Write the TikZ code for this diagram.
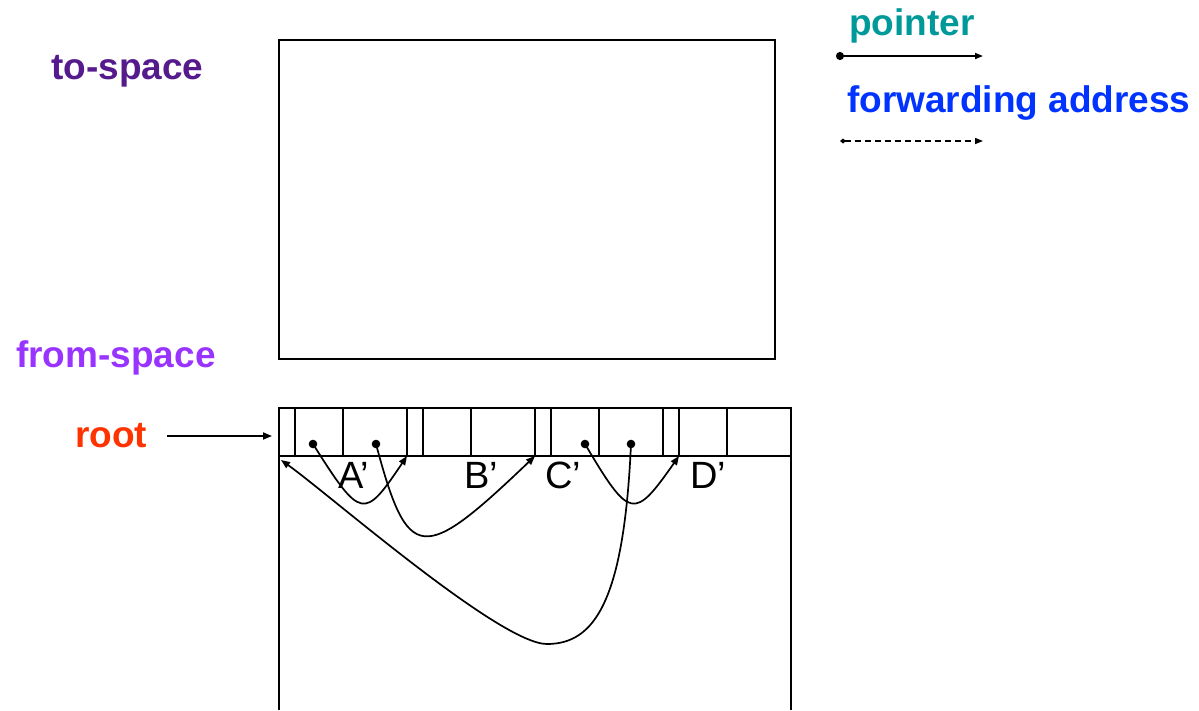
\documentclass[tikz,border=0pt]{standalone}
\usepackage{fontspec}
\setmainfont{Liberation Sans}
\usetikzlibrary{arrows.meta}
\definecolor{tocol}{RGB}{85,26,140}
\definecolor{fromcol}{RGB}{153,51,255}
\definecolor{rootcol}{RGB}{255,51,0}
\definecolor{ptrcol}{RGB}{0,153,153}
\definecolor{fwdcol}{RGB}{0,51,255}
\tikzset{
  box/.style={line width=2.2pt},
  ptr/.style={line width=1.7pt,-{Triangle[length=9pt,width=7pt]}},
  fwd/.style={line width=1.5pt,dash pattern=on 6pt off 4pt,
    {Diamond[length=6pt,width=5pt]}-{Triangle[length=8pt,width=6pt]}},
  lbl/.style={font=\fontsize{37}{44}\selectfont\bfseries,inner sep=0pt,anchor=base west},
  objlbl/.style={font=\fontsize{38}{46}\selectfont,inner sep=0pt,anchor=base west},
}
\begin{document}
\begin{tikzpicture}[x=1pt,y=-1pt]
    \useasboundingbox(0,0)rectangle(1199,710);
    % to-space
    \draw[box](279,40)rectangle(775,359);
    \node[lbl,text=tocol](tospace) at (51,79){to-space};
    % from-space e oggetti
    \draw[box](279,710)--(279,408)--(791,408)--(791,710);
    \draw[box](279,456)--(791,456);
    \foreach \x in {279,407,535,663}{
        \draw[box](\x,408)--(\x,456);
        \draw[box](\x+16,408)--(\x+16,456);
        \draw[box](\x+64,408)--(\x+64,456);
    }
    \node[lbl,text=fromcol](fromspace) at (16,367){from-space};
    \node[objlbl](A) at (338,488){A’};
    \node[objlbl](B) at (464,488){B’};
    \node[objlbl](C) at (545,488){C’};
    \node[objlbl](D) at (690,488){D’};
    % root
    \node[lbl,text=rootcol](root) at (75,447){root};
    \coordinate(rootin) at (272,436);
    \draw[ptr,shorten <=20pt](root.east |- rootin)--(rootin);
    % puntatori
    \coordinate(Aa) at (313,444);
    \coordinate(Ab) at (376,444);
    \coordinate(Ca) at (585,444);
    \coordinate(Cb) at (631,444);
    \coordinate(Ahd) at (281,460);
    \coordinate(Bhd) at (407,456);
    \coordinate(Chd) at (535,456);
    \coordinate(Dhd) at (679,456);
    \foreach \p in {Aa,Ab,Ca,Cb} \fill(\p) circle (4.3pt);
    \draw[ptr](Aa)..controls(361,520)and(364,520)..(Bhd);
    \draw[ptr](Ab)..controls(408,564)and(422,564)..(Chd);
    \draw[ptr](Ca)..controls(630,520)and(634,520)..(Dhd);
    \draw[ptr](Cb)..controls(624,600)and(595,644)..(547,644)
        ..controls(500,644)and(330,495)..(Ahd);
    % legenda
    \node[lbl,text=ptrcol](legptr) at (849,35){pointer};
    \node[lbl,text=fwdcol](legfwd) at (847,112){forwarding address};
    \coordinate(pa) at (836,56);
    \coordinate(pb) at (983,56);
    \coordinate(fa) at (840,141);
    \coordinate(fb) at (983,141);
    \draw[line width=1.7pt,{Circle[length=8pt]}-{Triangle[length=8pt,width=6pt]}](pa)--(pb);
    \draw[fwd](fa)--(fb);
\end{tikzpicture}
\end{document}
